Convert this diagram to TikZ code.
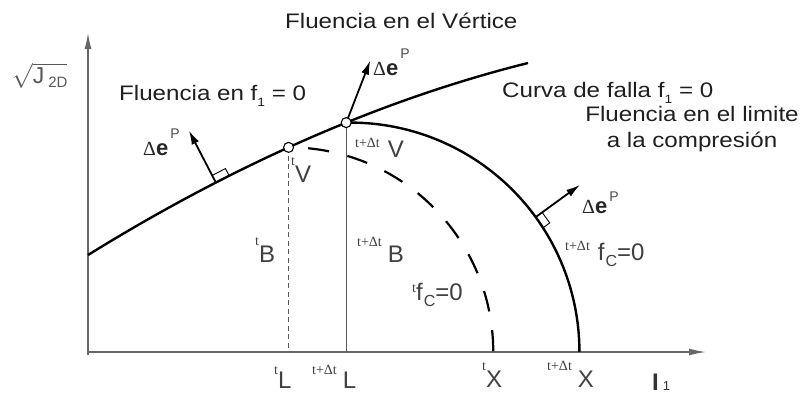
\documentclass[tikz,border=0pt]{standalone}
\usepackage{fontspec}
\setmainfont{Liberation Sans}
\newfontfamily\labfont{Liberation Sans}
\newfontfamily\serfont{Liberation Serif}
\usetikzlibrary{arrows.meta,calc}

\newcommand\wide[1]{\scalebox{1.15}[1]{#1}}
\newcommand\pre[1]{{\serfont\fontsize{14}{14}\selectfont #1}}
\newcommand\pl[3][15pt]{\raisebox{#1}{\pre{#2}}#3}
\newcommand\sbone[1]{\raisebox{-6pt}{\fontsize{12}{12}\selectfont #1}}
\newcommand\sbc[1]{\hspace{1pt}\raisebox{-6pt}{\fontsize{16}{16}\selectfont #1}}
\newcommand\dep[1][15pt]{{\serfont\fontsize{20}{20}\selectfont Δ}{\fontsize{22}{22}\selectfont\bfseries e}\hspace{2pt}\raisebox{#1}{\color{black!70}\fontsize{14}{14}\selectfont P}}

\tikzset{
  axisline/.style={line width=1.4pt, draw=black!60},
  curveline/.style={line width=2.4pt, draw=black},
  guideline/.style={line width=1.2pt, draw=black!65},
  normalarr/.style={line width=1.8pt, draw=black, -{Latex[length=14pt,width=8pt]}},
  rmark/.style={line width=0.9pt, draw=black},
  vtx/.style={circle, draw=black, line width=1.1pt, fill=white, inner sep=0pt, minimum size=10pt},
  captxt/.style={font=\fontsize{21}{26}\selectfont, text=black!88, inner sep=0pt},
  labtxt/.style={font=\labfont\fontsize{24}{26}\selectfont, text=black!75, inner sep=0pt},
}

\begin{document}
\begin{tikzpicture}[x=1pt,y=-1pt]
\useasboundingbox (0,0) rectangle (802,394);
\fill[white] (0,0) rectangle (802,394);

% axes
\coordinate (O) at (88,352);
\coordinate (Ybot) at (88,355);
\coordinate (Ytop) at (88,33);
\coordinate (Xend) at (706,352);
\draw[axisline, -{Latex[length=16pt,width=7pt]}] (Ybot) -- (Ytop);
\draw[axisline, -{Latex[length=17pt,width=7pt]}] (O) -- (Xend);

% failure line f1 = 0
\coordinate (A) at (88,255);
\coordinate (D) at (528,63);
\draw[curveline] (A) .. controls (235,164) and (382,99.5) .. (D)
  coordinate[pos=0.29] (b1)
  coordinate[pos=0.455] (tV)
  coordinate[pos=0.586] (V);

% vertical guides
\draw[guideline, dash pattern=on 5pt off 3.5pt] (tV) -- (tV |- O);
\draw[guideline] (V) -- (V |- O);

% t f_C = 0 (dashed cap)
\coordinate (tCc) at (tV |- O);
\draw[curveline, line width=2.2pt, dash pattern=on 21pt off 19pt]
  ($(tCc)+(-84.5:204.7)$) arc[start angle=-84.5, end angle=0, radius=204.7] coordinate (tX);

% t+dt f_C = 0 (solid cap)
\draw[curveline] (V) arc[start angle=-91, end angle=0, radius=229.2] coordinate (X);
\coordinate (Cc) at ($(V)+(4,229.2)$);

% normal at left
\coordinate (n1tip) at ($(b1)+(-27,-52)$);
\draw[normalarr] (b1) -- (n1tip);
\draw[rmark] ($(b1)+(13.3,-6.9)$) -- ($(b1)+(9.6,-14.0)$) -- ($(b1)+(-3.7,-7.1)$);

% normal at vertex
\coordinate (n2tip) at ($(V)+(24,-62)$);
\draw[normalarr] (V) -- (n2tip);

% normal at cap
\coordinate (b3) at ($(Cc)+(-36:229.2)$);
\coordinate (n3tip) at ($(Cc)+(-36:284)$);
\draw[normalarr] (b3) -- (n3tip);
\draw[rmark] ($(b3)+(7.6,10.5)$) -- ($(b3)+(14.1,5.8)$) -- ($(b3)+(6.5,-4.7)$);

% vertices
\node[vtx] (tVc) at (tV) {};
\node[vtx] (Vc) at (V) {};

% captions
\node[captxt, anchor=base west] (title) at (285,28) {\wide{Fluencia en el Vértice}};
\node[captxt, anchor=base west] (lf1) at (119,100) {\wide{Fluencia en f\sbone{1} = 0}};
\node[captxt, anchor=base west] (lcurva) at (502,97) {\wide{Curva de falla f\sbone{1} = 0}};
\node[captxt, align=center, anchor=base] (llim) at (692,147) {\wide{Fluencia en el limite}\\\wide{a la compresión}};

% axis labels
\node[inner sep=0pt, anchor=base west, text=black!65, font=\fontsize{24}{24}\selectfont] (ylab) at (12,83)
  {$\sqrt{\mbox{\labfont\fontsize{23}{23}\selectfont J\,\raisebox{-4pt}{\fontsize{15}{15}\selectfont 2D}}}$};
\node[inner sep=0pt, anchor=base west, text=black!80] (xlab) at (652,390)
  {\labfont\fontsize{24}{24}\selectfont\bfseries I\hspace{4pt}\mdseries\fontsize{13}{13}\selectfont 1};

% delta e^P labels
\node[inner sep=0pt, anchor=base west, text=black!85] (d1) at (143,155) {\dep[17pt]};
\node[inner sep=0pt, anchor=base west, text=black!85] (d2) at (373,75) {\dep[17pt]};
\node[inner sep=0pt, anchor=base west, text=black!85] (d3) at (582,213) {\dep[12pt]};

% point labels
\node[labtxt, anchor=base west] (ltV) at (291,182) {\pl[17pt]{t}{V}};
\node[labtxt, anchor=base west] (lV) at (355,157) {\pl[10pt]{t+Δt}{\hspace{8pt}V}};
\node[labtxt, anchor=base west] (ltB) at (255,262) {\pl[17pt]{t}{B}};
\node[labtxt, anchor=base west] (lB) at (357,262) {\pl[16pt]{t+Δt}{\hspace{6pt}B}};
\node[labtxt, anchor=base west] (ltL) at (274,388) {\pl[14pt]{t}{L}};
\node[labtxt, anchor=base west] (lL) at (312,388) {\pl[14pt]{t+Δt}{\hspace{6pt}L}};
\node[labtxt, anchor=base west] (ltX) at (482,387) {\pl[17pt]{t}{X}};
\node[labtxt, anchor=base west] (lX) at (547,387) {\pl[17pt]{t+Δt}{\hspace{6pt}X}};
\node[labtxt, anchor=base west] (ltf) at (412,300) {\pl[8pt]{t}{f\sbc{C}=0}};
\node[labtxt, anchor=base west] (lf) at (565,260) {\pl[10pt]{t+Δt}{\hspace{8pt}f\sbc{C}=0}};
\end{tikzpicture}
\end{document}
